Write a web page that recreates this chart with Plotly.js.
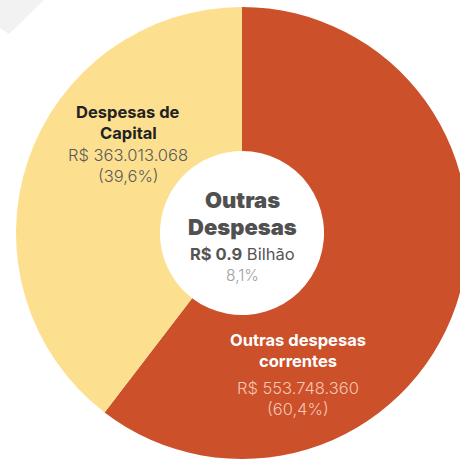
<!DOCTYPE html>
<html>
<head>
<meta charset="utf-8">
<script src="https://cdn.plot.ly/plotly-3.0.1.min.js"></script>
<style>
html,body{margin:0;padding:0;overflow:hidden;background:#fff;width:460px;height:460px;}
#chart{width:480px;height:460px;}
</style>
</head>
<body>
<div id="chart"></div>
<script>
// ---- data ----
const categories = ['Outras despesas correntes', 'Despesas de Capital'];
const categoryLines = [['Outras despesas', 'correntes'], ['Despesas de', 'Capital']];
const values = [553748360, 363013068];
const centerTitle = ['Outras', 'Despesas'];
const centerAmount = 'R$ 0.9';
const centerUnit = 'Bilhão';
const centerShare = '8,1%';

// ---- styles ----
const sliceColors = ['#CC5029', '#FDE08F'];
const W = 480, H = 460;
const px = x => x / W;
const py = y => 1 - y / H;

function fmtBR(n) {
  return String(n).replace(/\B(?=(\d{3})+(?!\d))/g, '.');
}
const total = values.reduce((a, b) => a + b, 0);
const pctText = values.map(v => '(' + (v / total * 100).toFixed(1).replace('.', ',') + '%)');

const trace = {
  type: 'pie',
  labels: categories,
  values: values,
  sort: false,
  direction: 'clockwise',
  rotation: 0,
  hole: 0.363,
  marker: {colors: sliceColors, line: {width: 0}},
  textinfo: 'none',
  hoverinfo: 'none',
  showlegend: false,
  domain: {x: [px(16), px(468)], y: [py(459), py(7)]}
};

const FONT = 'Inter, "Noto Sans", sans-serif';
function ann(x, y, text, size, color, weight) {
  return {xref: 'paper', yref: 'paper', x: px(x), y: py(y), text: text, showarrow: false,
    xanchor: 'center', yanchor: 'middle',
    font: {family: FONT, size: size, color: color, weight: weight}};
}

// label placement (pixel positions)
const labelPos = [
  {x: 298, y: [340, 361, 388, 409], title: '#ffffff', sub: '#F4C6B3'},
  {x: 128, y: [112, 133, 155, 176], title: '#222222', sub: '#5a5a5a'}
];

const annotations = [];
values.forEach((v, i) => {
  const p = labelPos[i];
  annotations.push(ann(p.x, p.y[0], categoryLines[i][0], 16.5, p.title, 'bold'));
  annotations.push(ann(p.x, p.y[1], categoryLines[i][1], 16.5, p.title, 'bold'));
  annotations.push(ann(p.x, p.y[2], 'R$ ' + fmtBR(v), 16.5, p.sub, 300));
  annotations.push(ann(p.x, p.y[3], pctText[i], 16.5, p.sub, 300));
});
annotations.push(ann(242, 200, centerTitle[0], 22, '#505050', 900));
annotations.push(ann(242, 227, centerTitle[1], 22, '#505050', 900));
annotations.push(ann(242, 254, '<b>' + centerAmount + '</b> ' + centerUnit, 16.5, '#555555', 400));
annotations.push(ann(242, 275, centerShare, 15.5, '#a0a0a0', 300));

const layout = {
  width: W, height: H,
  margin: {l: 0, r: 0, t: 0, b: 0},
  paper_bgcolor: '#ffffff',
  plot_bgcolor: '#ffffff',
  annotations: annotations,
  shapes: [{
    type: 'path', xref: 'paper', yref: 'paper', layer: 'below',
    path: 'M ' + px(0) + ',' + py(0) + ' L ' + px(44) + ',' + py(0) + ' L ' + px(9) + ',' + py(34) + ' L ' + px(0) + ',' + py(28) + ' Z',
    fillcolor: '#f2f2f3', line: {width: 0}
  }]
};

Plotly.newPlot('chart', [trace], layout, {displayModeBar: false, staticPlot: true});
</script>
</body>
</html>
